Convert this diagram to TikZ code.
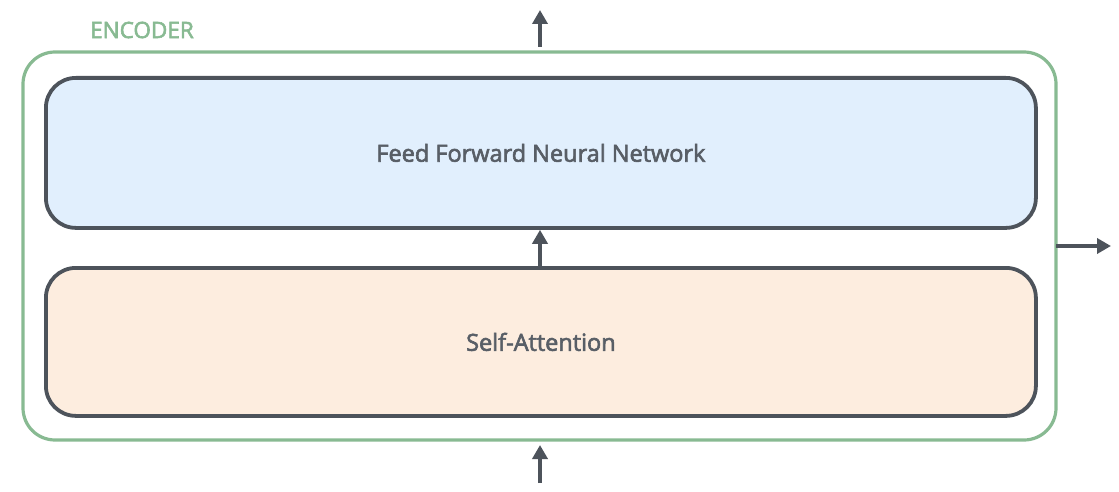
\documentclass[tikz,border=0pt]{standalone}
\usepackage{fontspec}
\setmainfont{Open Sans}
\newfontface\semib{Open Sans}[FakeBold=2.6]
\usetikzlibrary{arrows.meta}
\definecolor{encgreen}{HTML}{88BA92}
\definecolor{boxgray}{HTML}{4D535B}
\definecolor{ffblue}{HTML}{E1EFFD}
\definecolor{saorange}{HTML}{FDEDDF}
\definecolor{txtgray}{HTML}{585E66}
\tikzset{
  layerbox/.style={draw=boxgray, line width=3.8pt, rounded corners=30pt},
  encbox/.style={draw=encgreen, line width=3.2pt, rounded corners=32pt},
  flow/.style={draw=boxgray, line width=3.8pt, -{Triangle[length=14pt,width=15pt]}},
  lbl/.style={text=txtgray, font=\semib\fontsize{23.5}{26}\selectfont},
}
\begin{document}
\begin{tikzpicture}[x=1pt,y=-1pt]
\useasboundingbox (0,0) rectangle (1119,492);
\draw[encbox] (23,52) rectangle (1056,440);
\node[anchor=west, text=encgreen, font=\semib\fontsize{22.5}{24}\selectfont, inner sep=0pt] (enc) at (90,30) {ENCODER};
\node[layerbox, fill=ffblue, minimum width=990pt, minimum height=150pt, anchor=north west] (ff) at (44,76) {};
\node[lbl] (fft) at (ff.center) {Feed Forward Neural Network};
\node[layerbox, fill=saorange, minimum width=990pt, minimum height=148pt, anchor=north west] (sa) at (44,266) {};
\node[lbl] (sat) at (sa.center) {Self-Attention};
\coordinate (inB) at (540,483);
\coordinate (inT) at (540,445);
\coordinate (outB) at (540,47);
\coordinate (outT) at (540,10);
\coordinate (rA) at (1056,246);
\coordinate (rB) at (1111,246);
\draw[flow] (inB) -- (inT);
\draw[flow] (sa.north -| inB) -- (ff.south -| inB);
\draw[flow] (outB) -- (outT);
\draw[flow] (rA) -- (rB);
\end{tikzpicture}
\end{document}
